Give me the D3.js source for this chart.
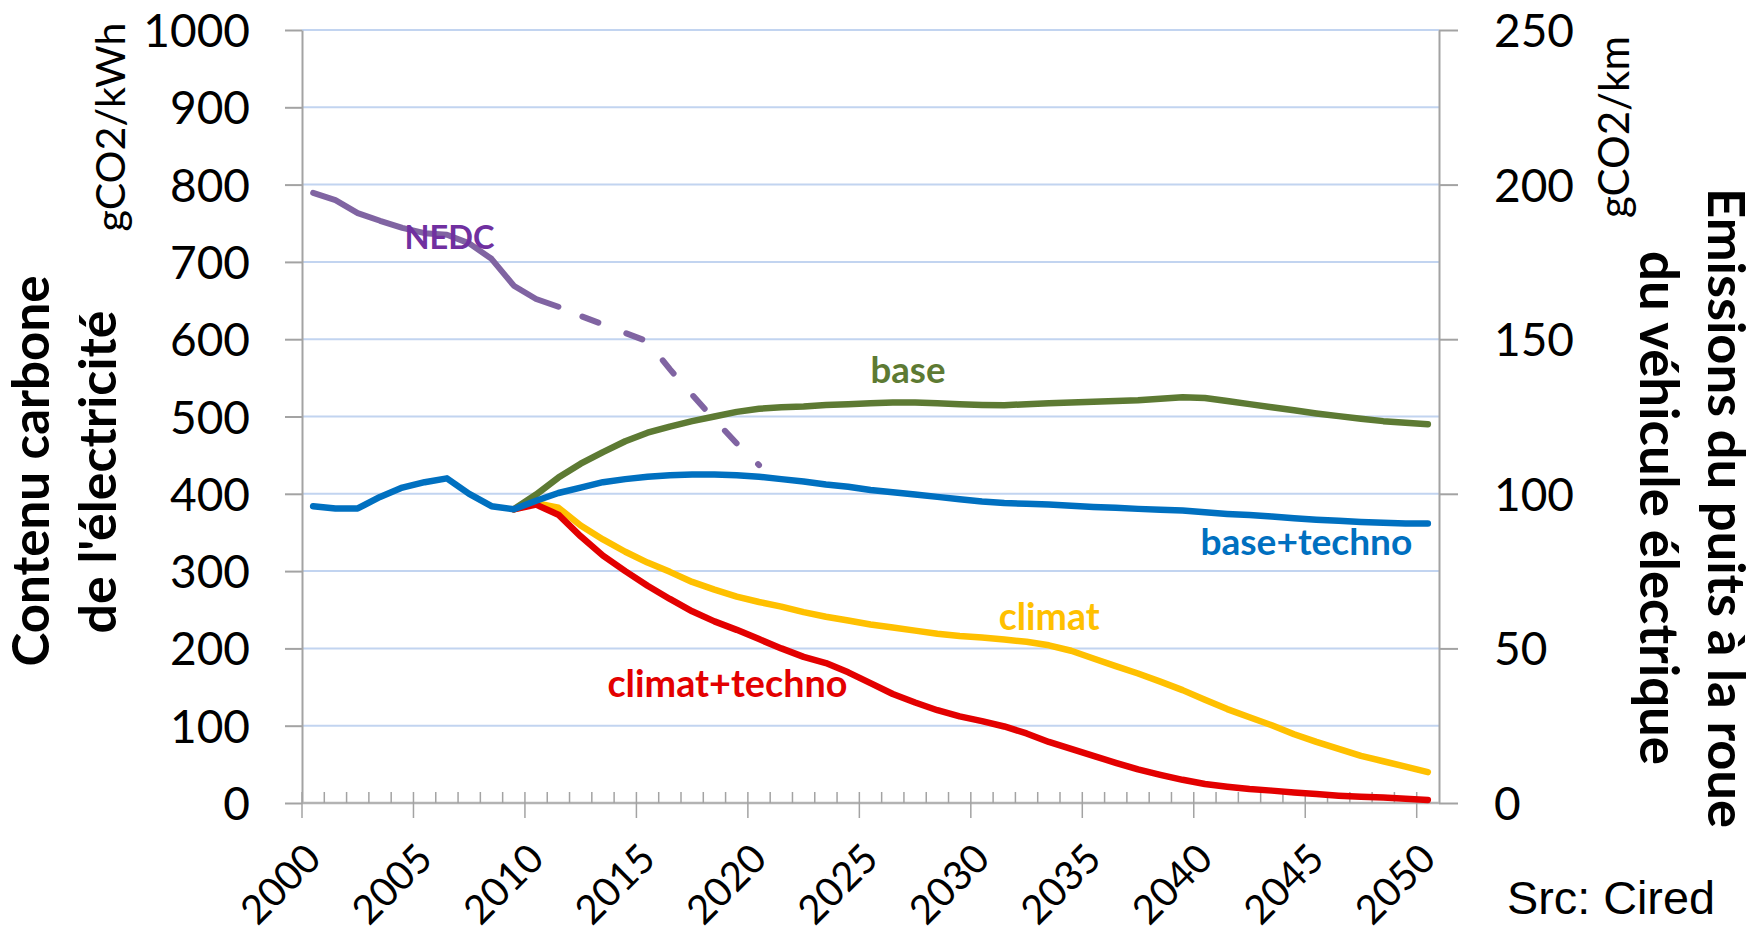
<!DOCTYPE html>
<html lang="fr">
<head>
<meta charset="utf-8">
<title>Contenu carbone de l'électricité</title>
<script src="https://cdn.jsdelivr.net/npm/d3@7"></script>
<style>
  html, body { margin: 0; padding: 0; background: #fff; }
  svg { display: block; }
  text { font-family: Lato, "Open Sans", sans-serif; fill: #000; }
</style>
</head>
<body>
<script>
// categories (years) and tick labels
var years = d3.range(2000, 2051);
var yearLabels = [2000, 2005, 2010, 2015, 2020, 2025, 2030, 2035, 2040, 2045, 2050];
var leftTicks = [0, 100, 200, 300, 400, 500, 600, 700, 800, 900, 1000];
var rightTicks = [0, 50, 100, 150, 200, 250];

// contenu carbone de l'électricité, gCO2/kWh (left axis)
var baseTechno = [384, 381, 381, 396, 408, 415, 420, 400, 384, 380,
  391, 401, 408, 415, 419, 422, 424, 425, 425, 424,
  422, 419, 416, 412, 409, 405, 402, 399, 396, 393,
  390, 388, 387, 386, 384.5, 383, 382, 380.5, 379.5, 378.5,
  376, 374, 372.5, 370.5, 368.5, 366.5, 365, 363.5, 362.5, 361.5,
  361.5];
var base = [null, null, null, null, null, null, null, null, null, 380,
  399, 421, 439, 454, 468, 479, 487, 494, 500, 506,
  510, 512, 513, 515, 516, 517, 518, 518, 517, 516,
  515, 514.5, 516, 517, 518, 519, 520, 521, 523, 525,
  524, 520, 516, 512, 508, 504, 500.5, 497, 494, 492,
  490];
var climat = [null, null, null, null, null, null, null, null, null, 380,
  388, 382, 359, 341, 325, 311, 299, 286, 276, 267,
  260, 254, 247, 241, 236, 231, 227, 223, 219, 216,
  214, 211.5, 208.5, 204, 197, 187, 177, 167.5, 157, 146,
  133.5, 121.5, 111, 100.5, 89, 79, 70, 61, 54, 47,
  40];
var climatTechno = [null, null, null, null, null, null, null, null, null, 380,
  386, 373, 345, 320, 300, 281, 264, 248, 235, 224,
  212, 200, 189, 181, 169, 155, 141, 130, 120, 112,
  106, 99, 90, 79, 70, 61, 52, 43.5, 36.5, 30,
  24.5, 21, 18, 16, 13.5, 11.5, 9.5, 8, 7, 5.5,
  4];

// NEDC, gCO2/km (right axis), 2000-2020; measured up to 2011, projected after
var nedc = [197.3, 195, 190.8, 188.3, 186, 184.3, 183.8, 181, 176, 167.3,
  163, 160.5, 157.5, 154.8, 152, 149.3, 140.3, 132, 124, 116.3,
  109.3];
var nedcLastMeasured = 2011;

var W = 1763, H = 934;
// plot area (note: "top" is reserved on window, so prefixed names)
var plotLeft = 302, plotRight = 1439, plotTop = 30, plotBottom = 803;

var svg = d3.select("body").append("svg")
  .attr("width", W)
  .attr("height", H);

// scales
var x = d3.scaleBand().domain(years).range([plotLeft, plotRight]).padding(0);
var bw = x.bandwidth();
function cx(yr) { return x(yr) + bw / 2; }
var xLin = d3.scaleLinear().domain([2000, 2050]).range([cx(2000), cx(2050)]);
var yL = d3.scaleLinear().domain([0, 1000]).range([plotBottom, plotTop]);
var yR = d3.scaleLinear().domain([0, 250]).range([plotBottom, plotTop]);

var axisGrey = "#a3a3a3";

// gridlines
svg.append("g").selectAll("line")
  .data(leftTicks.filter(function(d) { return d > 0; }))
  .enter().append("line")
  .attr("x1", plotLeft).attr("x2", plotRight)
  .attr("y1", function(d) { return yL(d); })
  .attr("y2", function(d) { return yL(d); })
  .attr("stroke", "#c2d4f0")
  .attr("stroke-width", 2);

// left axis
var gL = svg.append("g")
  .attr("transform", "translate(" + plotLeft + ",0)")
  .call(d3.axisLeft(yL).tickValues(leftTicks).tickFormat(d3.format("d"))
    .tickSize(17).tickSizeOuter(0).tickPadding(35));
// right axis
var gR = svg.append("g")
  .attr("transform", "translate(" + plotRight + ",0)")
  .call(d3.axisRight(yR).tickValues(rightTicks).tickFormat(d3.format("d"))
    .tickSize(19).tickSizeOuter(0).tickPadding(36));

[gL, gR].forEach(function(g) {
  g.attr("font-family", null).attr("font-size", null);
  g.select(".domain").attr("stroke", axisGrey).attr("stroke-width", 2);
  g.selectAll(".tick line").attr("stroke", axisGrey).attr("stroke-width", 2);
  g.selectAll(".tick text").attr("font-size", 46).attr("fill", "#000").attr("dy", "0.36em");
});

// category axis
var gx = svg.append("g");
gx.append("line")
  .attr("x1", plotLeft).attr("x2", plotRight)
  .attr("y1", plotBottom).attr("y2", plotBottom)
  .attr("stroke", "#b3b3b3").attr("stroke-width", 2.5);
var bounds = d3.range(0, years.length + 1);
gx.selectAll("line.minor")
  .data(bounds.filter(function(k) { return k % 5 !== 0 && k < years.length; }))
  .enter().append("line")
  .attr("class", "minor")
  .attr("x1", function(k) { return plotLeft + k * bw; })
  .attr("x2", function(k) { return plotLeft + k * bw; })
  .attr("y1", plotBottom).attr("y2", plotBottom - 11)
  .attr("stroke", axisGrey).attr("stroke-width", 1.5);
gx.selectAll("line.major")
  .data(bounds.filter(function(k) { return k % 5 === 0 && k < years.length; }))
  .enter().append("line")
  .attr("class", "major")
  .attr("x1", function(k) { return plotLeft + k * bw; })
  .attr("x2", function(k) { return plotLeft + k * bw; })
  .attr("y1", plotBottom - 11).attr("y2", plotBottom + 15)
  .attr("stroke", axisGrey).attr("stroke-width", 1.5);
gx.selectAll("text")
  .data(yearLabels)
  .enter().append("text")
  .attr("transform", function(d) { return "translate(" + (cx(d) + 10) + "," + (plotBottom + 58) + ") rotate(-45)"; })
  .attr("text-anchor", "end")
  .attr("font-size", 40)
  .text(function(d) { return d; });

// series
var lineL = d3.line()
  .defined(function(d) { return d != null; })
  .x(function(d, i) { return cx(years[i]); })
  .y(function(d) { return yL(d); });

var series = [
  { values: base, color: "#5d7a33" },
  { values: climat, color: "#ffc000" },
  { values: climatTechno, color: "#e30000" },
  { values: baseTechno, color: "#0070c0" }
];
svg.append("g").selectAll("path")
  .data(series)
  .enter().append("path")
  .attr("d", function(s) { return lineL(s.values); })
  .attr("fill", "none")
  .attr("stroke", function(s) { return s.color; })
  .attr("stroke-width", 6.5)
  .attr("stroke-linejoin", "round")
  .attr("stroke-linecap", "round");

// NEDC on the right axis
var nedcPts = nedc.map(function(v, i) { return { year: 2000 + i, v: v }; });
var lineR = d3.line()
  .x(function(d) { return cx(d.year); })
  .y(function(d) { return yR(d.v); });
svg.append("path")
  .attr("d", lineR(nedcPts.filter(function(d) { return d.year <= nedcLastMeasured; })))
  .attr("fill", "none")
  .attr("stroke", "#8064a2")
  .attr("stroke-width", 6)
  .attr("stroke-linejoin", "round")
  .attr("stroke-linecap", "round");
svg.append("path")
  .attr("d", lineR(nedcPts.filter(function(d) { return d.year >= nedcLastMeasured; })))
  .attr("fill", "none")
  .attr("stroke", "#8064a2")
  .attr("stroke-width", 6)
  .attr("stroke-dasharray", "17 30")
  .attr("stroke-dashoffset", 21)
  .attr("stroke-linecap", "round");

// make a text fill a given width
function fitWidth(t, w) {
  var len = t.node().getComputedTextLength();
  var fs = parseFloat(t.attr("font-size"));
  t.attr("font-size", fs * w / len);
}

// series labels (placed in data coordinates)
var labels = [
  { text: "NEDC", year: 2004.1, value: 717, color: "#7030a0", width: 90 },
  { text: "base", year: 2025.0, value: 543, color: "#5d7a33", width: 75 },
  { text: "base+techno", year: 2039.8, value: 321, color: "#0070c0", width: 212 },
  { text: "climat", year: 2030.75, value: 224, color: "#ffc000", width: 101 },
  { text: "climat+techno", year: 2013.2, value: 137, color: "#e30000", width: 240 }
];
labels.forEach(function(l) {
  var t = svg.append("text")
    .attr("x", xLin(l.year))
    .attr("y", yL(l.value))
    .attr("font-size", 38)
    .attr("font-weight", "bold")
    .style("fill", l.color)
    .text(l.text);
  fitWidth(t, l.width);
});

// axis titles
function title(txt, tx, ty, rot, weight, size, width) {
  var t = svg.append("text")
    .attr("transform", "translate(" + tx + "," + ty + ") rotate(" + rot + ")")
    .attr("text-anchor", "middle")
    .attr("font-size", size)
    .attr("font-weight", weight)
    .text(txt);
  fitWidth(t, width);
}
title("Contenu carbone", 49, 471, -90, "bold", 50, 391);
title("de l'électricité", 116, 472, -90, "bold", 50, 323);
title("gCO2/kWh", 125, 127, -90, "normal", 44, 209);
title("Emissions du puits à la roue", 1708, 508, 90, "bold", 50, 640);
title("du véhicule électrique", 1640, 508, 90, "bold", 50, 514);
title("gCO2/km", 1629, 127, -90, "normal", 44, 182);

var src = svg.append("text")
  .attr("x", 1507).attr("y", 914)
  .attr("font-size", 48)
  .style("font-family", "'Liberation Sans', Arial, sans-serif")
  .text("Src: Cired");
fitWidth(src, 208);
</script>
</body>
</html>
